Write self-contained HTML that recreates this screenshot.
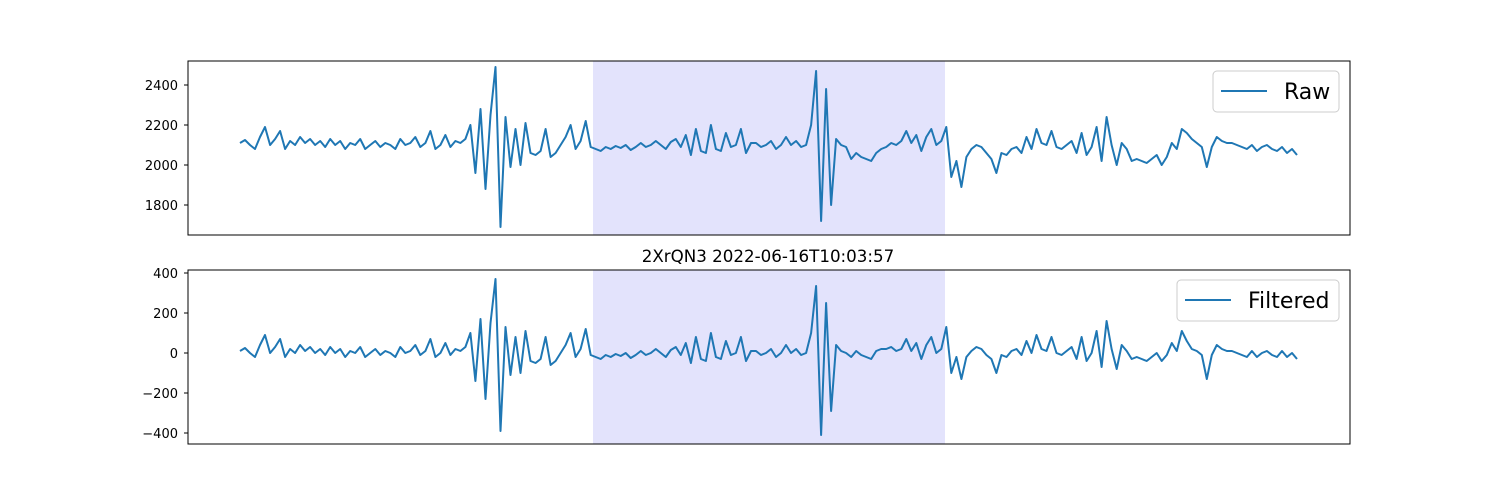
<!DOCTYPE html>
<html><head><meta charset="utf-8"><style>
body{margin:0;background:#fff;}
svg{display:block;font-family:"DejaVu Sans","Liberation Sans",sans-serif;}
</style></head><body>
<svg id="chart" width="1500" height="500" viewBox="0 0 1500 500"></svg>
<script>
const rawValues=[2110,2125,2100,2080,2140,2190,2100,2130,2170,2080,2120,2100,2140,2110,2130,2100,2120,2090,2130,2100,2120,2080,2110,2100,2130,2080,2100,2120,2090,2110,2100,2080,2130,2100,2110,2140,2090,2110,2170,2080,2100,2150,2090,2120,2110,2130,
2200,1960,2280,1880,2250,2490,1690,2240,1990,2180,2000,2210,2060,
2050,2070,2180,2040,2060,2100,2140,2200,2080,2120,2220,2090,
2080,2070,2090,2080,2095,2085,2100,2075,2090,2110,2090,2100,2120,2100,2080,2115,2130,2090,
2150,2050,2180,2070,2060,2200,2080,2070,2160,2090,2100,2180,2060,2110,
2110,2090,2100,2120,2080,2100,2140,2100,2120,2090,
2100,2200,2470,1720,2380,1800,2130,2100,2090,
2030,2060,2040,2030,2020,2060,2080,2090,2110,2100,2120,
2170,2110,2150,2070,2140,2180,2100,2120,2190,
1940,2020,1890,2040,2080,2100,2090,2060,2030,1960,2060,2050,2080,2090,2060,2140,2080,2180,2110,2100,2170,2090,2080,2100,2120,2060,2160,2050,2090,2190,2020,2240,2100,2000,2110,2080,2020,2030,
2020,2010,2030,2050,2000,2040,2110,2080,2180,2160,2130,2110,2090,1990,2090,2140,2120,2110,2110,2100,2090,2080,2100,2070,2090,2100,2080,2070,2090,2060,2080,2050];
const filteredValues=[10,25,0,-20,40,90,0,30,70,-20,20,0,40,10,30,0,20,-10,30,0,20,-20,10,0,30,-20,0,20,-10,10,0,-20,30,0,10,40,-10,10,70,-20,0,50,-10,20,10,30,
100,-140,170,-230,150,370,-390,130,-110,80,-100,110,-40,
-50,-30,80,-60,-40,0,40,100,-20,20,120,-10,
-20,-30,-10,-20,-5,-15,0,-25,-10,10,-10,0,20,0,-20,15,30,-10,
50,-50,80,-30,-40,100,-20,-30,60,-10,0,80,-40,10,
10,-10,0,20,-20,0,40,0,20,-10,
0,100,335,-410,250,-290,40,10,0,
-20,10,-10,-20,-30,10,20,20,30,10,20,
70,10,50,-30,40,80,0,20,130,
-100,-20,-130,-20,10,30,20,-10,-30,-100,-10,-20,10,20,-10,60,0,90,20,10,80,0,-10,10,30,-30,80,-40,0,110,-70,160,20,-80,40,10,-30,-20,
-30,-40,-20,0,-40,-10,50,10,110,60,20,10,-10,-130,-10,40,20,10,10,0,-10,-20,10,-20,0,10,-10,-20,10,-20,0,-30];
const rawTicks=[1800,2000,2200,2400];
const filtTicks=[-400,-200,0,200,400];
const NS="http://www.w3.org/2000/svg";
const svg=document.getElementById('chart');
function mk(tag,attrs,parent){const e=document.createElementNS(NS,tag);for(const k in attrs)e.setAttribute(k,attrs[k]);(parent||svg).appendChild(e);return e;}
function panel(name,top,vals,ticks,yAt,legendText,lx0){
  const L=188,R=1350,T=top,B=top+174;
  const g=mk('g',{});
  
  
  const n=vals.length;
  const xs=i=>240+i*(1057/(n-1));
  const sh=mk('rect',{x:593,y:T,width:352,height:174,fill:'#e3e3fc'},g);
  
  
  let d='';vals.forEach((v,i)=>{d+=(i?'L':'M')+xs(i).toFixed(1)+' '+yAt(v).toFixed(1);});
  const p=mk('path',{d:d,fill:'none',stroke:'#1f77b4','stroke-width':2,'stroke-linejoin':'round'},g);
  
  
  const fr=mk('rect',{x:L,y:T,width:R-L,height:B-T,fill:'none',stroke:'#000','stroke-width':1},g);
  
  
  ticks.forEach(t=>{const y=yAt(t);
    mk('line',{x1:L-4,x2:L,y1:y,y2:y,stroke:'#000'},g);
    const tx=mk('text',{x:L-10,y:y+5,'text-anchor':'end','font-size':13,fill:'#000'},g);
    tx.textContent=String(t).replace('-','\u2212');
    
    
  });
  const lg=mk('g',{},g);
  
  
  mk('rect',{x:lx0,y:T+10,width:1339-lx0,height:41,rx:4,fill:'#fff',stroke:'#ccc'},lg);
  mk('line',{x1:lx0+8,x2:lx0+54,y1:T+30,y2:T+30,stroke:'#1f77b4','stroke-width':2},lg);
  const lt=mk('text',{x:lx0+71,y:T+38,'font-size':22,fill:'#000'},lg);
  lt.textContent=legendText;
  
  
}
panel('raw',61,rawValues,rawTicks,v=>165-(v-2000)*0.2,'Raw',1213);
panel('filtered',270,filteredValues,filtTicks,v=>353-v*0.2,'Filtered',1177);
const title=mk('text',{x:768,y:262,'text-anchor':'middle','font-size':16.7,fill:'#000'});
title.textContent='2XrQN3 2022-06-16T10:03:57';


</script>
</body></html>
